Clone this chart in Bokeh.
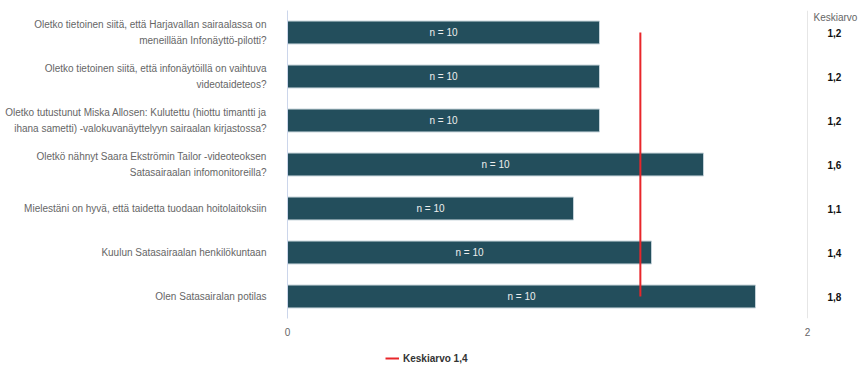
from bokeh.plotting import figure
from bokeh.layouts import column
from bokeh.models import (FactorRange, Range1d, ColumnDataSource,
                          FixedTicker, Legend, LegendItem)
from bokeh.core.properties import value
from bokeh.embed import file_html
from bokeh.resources import INLINE

categories = [
    "Oletko tietoinen siitä, että Harjavallan sairaalassa on\nmeneillään Infonäyttö-pilotti?",
    "Oletko tietoinen siitä, että infonäytöillä on vaihtuva\nvideotaideteos?",
    "Oletko tutustunut Miska Allosen: Kulutettu (hiottu timantti ja\nihana sametti) -valokuvanäyttelyyn sairaalan kirjastossa?",
    "Oletkö nähnyt Saara Ekströmin Tailor -videoteoksen\nSatasairaalan infomonitoreilla?",
    "Mielestäni on hyvä, että taidetta tuodaan hoitolaitoksiin",
    "Kuulun Satasairaalan henkilökuntaan",
    "Olen Satasairalan potilas",
]
means = [1.2, 1.2, 1.2, 1.6, 1.1, 1.4, 1.8]
n_labels = ["n = 10"] * 7
mean_labels = ["1,2", "1,2", "1,2", "1,6", "1,1", "1,4", "1,8"]
overall_mean = sum(means) / len(means)
legend_label = "Keskiarvo 1,4"
header = "Keskiarvo"
x_ticks = [0, 2]

FONT = "Liberation Sans"
RED = "#e8262a"

src = ColumnDataSource(dict(
    cat=categories,
    val=means,
    half=[m / 2 for m in means],
    nl=n_labels,
    ml=mean_labels,
    xr=[x_ticks[-1]] * len(categories),
))

p = figure(
    frame_width=572, frame_height=308,
    y_range=FactorRange(factors=list(reversed(categories)), range_padding=0),
    x_range=Range1d(0, 2.2),
    output_backend="svg", toolbar_location=None,
    min_border_left=287, min_border_right=0, min_border_top=10, min_border_bottom=27,
)
p.outline_line_color = None
p.background_fill_color = "white"
p.border_fill_color = "white"

# grid
p.ygrid.grid_line_color = None
p.xgrid.ticker = FixedTicker(ticks=x_ticks)
p.xgrid.grid_line_color = "#e6e6e6"
p.xgrid.grid_line_width = 1

p.hbar(y="cat", right="val", left=0, height=0.52, source=src,
       fill_color="#234e5c", line_color="#c3d1d8", line_width=1)

p.text(x="half", y="cat", text="nl", source=src, text_align="center",
       text_baseline="middle", text_font_size="10px", text_color="#eeeeee",
       text_font=value(FONT))

seg_src = ColumnDataSource(dict(x0=[overall_mean], x1=[overall_mean],
                                y0=[categories[0]], y1=[categories[-1]]))
seg = p.segment(x0="x0", y0="y0", x1="x1", y1="y1", source=seg_src,
                line_color=RED, line_width=2)

# right column: means
p.text(x="xr", y="cat", text="ml", source=src, x_offset=20, text_align="left",
       text_baseline="middle", text_font_size="10px", text_font_style="bold",
       text_color="#111111", text_font=value(FONT))
hdr_src = ColumnDataSource(dict(x=[x_ticks[-1]], y=[len(categories)], t=[header]))
p.text(x="x", y="y", text="t", source=hdr_src, x_offset=6, y_offset=1,
       text_align="left", text_baseline="top", text_font_size="10px",
       text_color="#666666", text_font=value(FONT))

# left axis
ya = p.yaxis[0]
ya.axis_line_color = "#ccd6eb"
ya.major_tick_line_color = None
ya.minor_tick_line_color = None
ya.major_tick_out = 0
ya.major_tick_in = 0
ya.minor_tick_out = 0
ya.major_label_standoff = 21
ya.major_label_text_font = FONT
ya.major_label_text_font_size = "10px"
ya.major_label_text_color = "#666666"
ya.major_label_text_line_height = 1.5

# bottom axis
xa = p.xaxis[0]
xa.ticker = FixedTicker(ticks=x_ticks)
xa.axis_line_color = None
xa.major_tick_line_color = None
xa.minor_tick_line_color = None
xa.major_tick_out = 0
xa.major_tick_in = 0
xa.minor_tick_out = 0
xa.major_label_standoff = 9
xa.major_label_text_font = FONT
xa.major_label_text_font_size = "10px"
xa.major_label_text_color = "#666666"

# legend strip below the chart (its frame is aligned with the chart's frame)
p2 = figure(
    width=859, height=20, x_range=Range1d(-10, -9), y_range=Range1d(0, 1),
    output_backend="svg", toolbar_location=None,
    x_axis_location=None, y_axis_location=None, min_border=0,
)
p2.outline_line_color = None
p2.xgrid.grid_line_color = None
p2.ygrid.grid_line_color = None
seg2 = p2.segment(x0="x0", y0=0, x1="x1", y1=1, source=seg_src,
                  line_color=RED, line_width=2)
legend = Legend(items=[LegendItem(label=legend_label, renderers=[seg2])],
                location=(98, 1), orientation="horizontal",
                padding=0, margin=0, border_line_color=None,
                background_fill_alpha=0, glyph_width=14, glyph_height=12,
                label_standoff=4, label_height=12, label_text_font=FONT,
                label_text_font_size="10px",
                label_text_font_style="bold", label_text_color="#333333")
p2.add_layout(legend, "center")

layout = column(p, p2, spacing=0)
open("out.html", "w").write(file_html(layout, INLINE))
